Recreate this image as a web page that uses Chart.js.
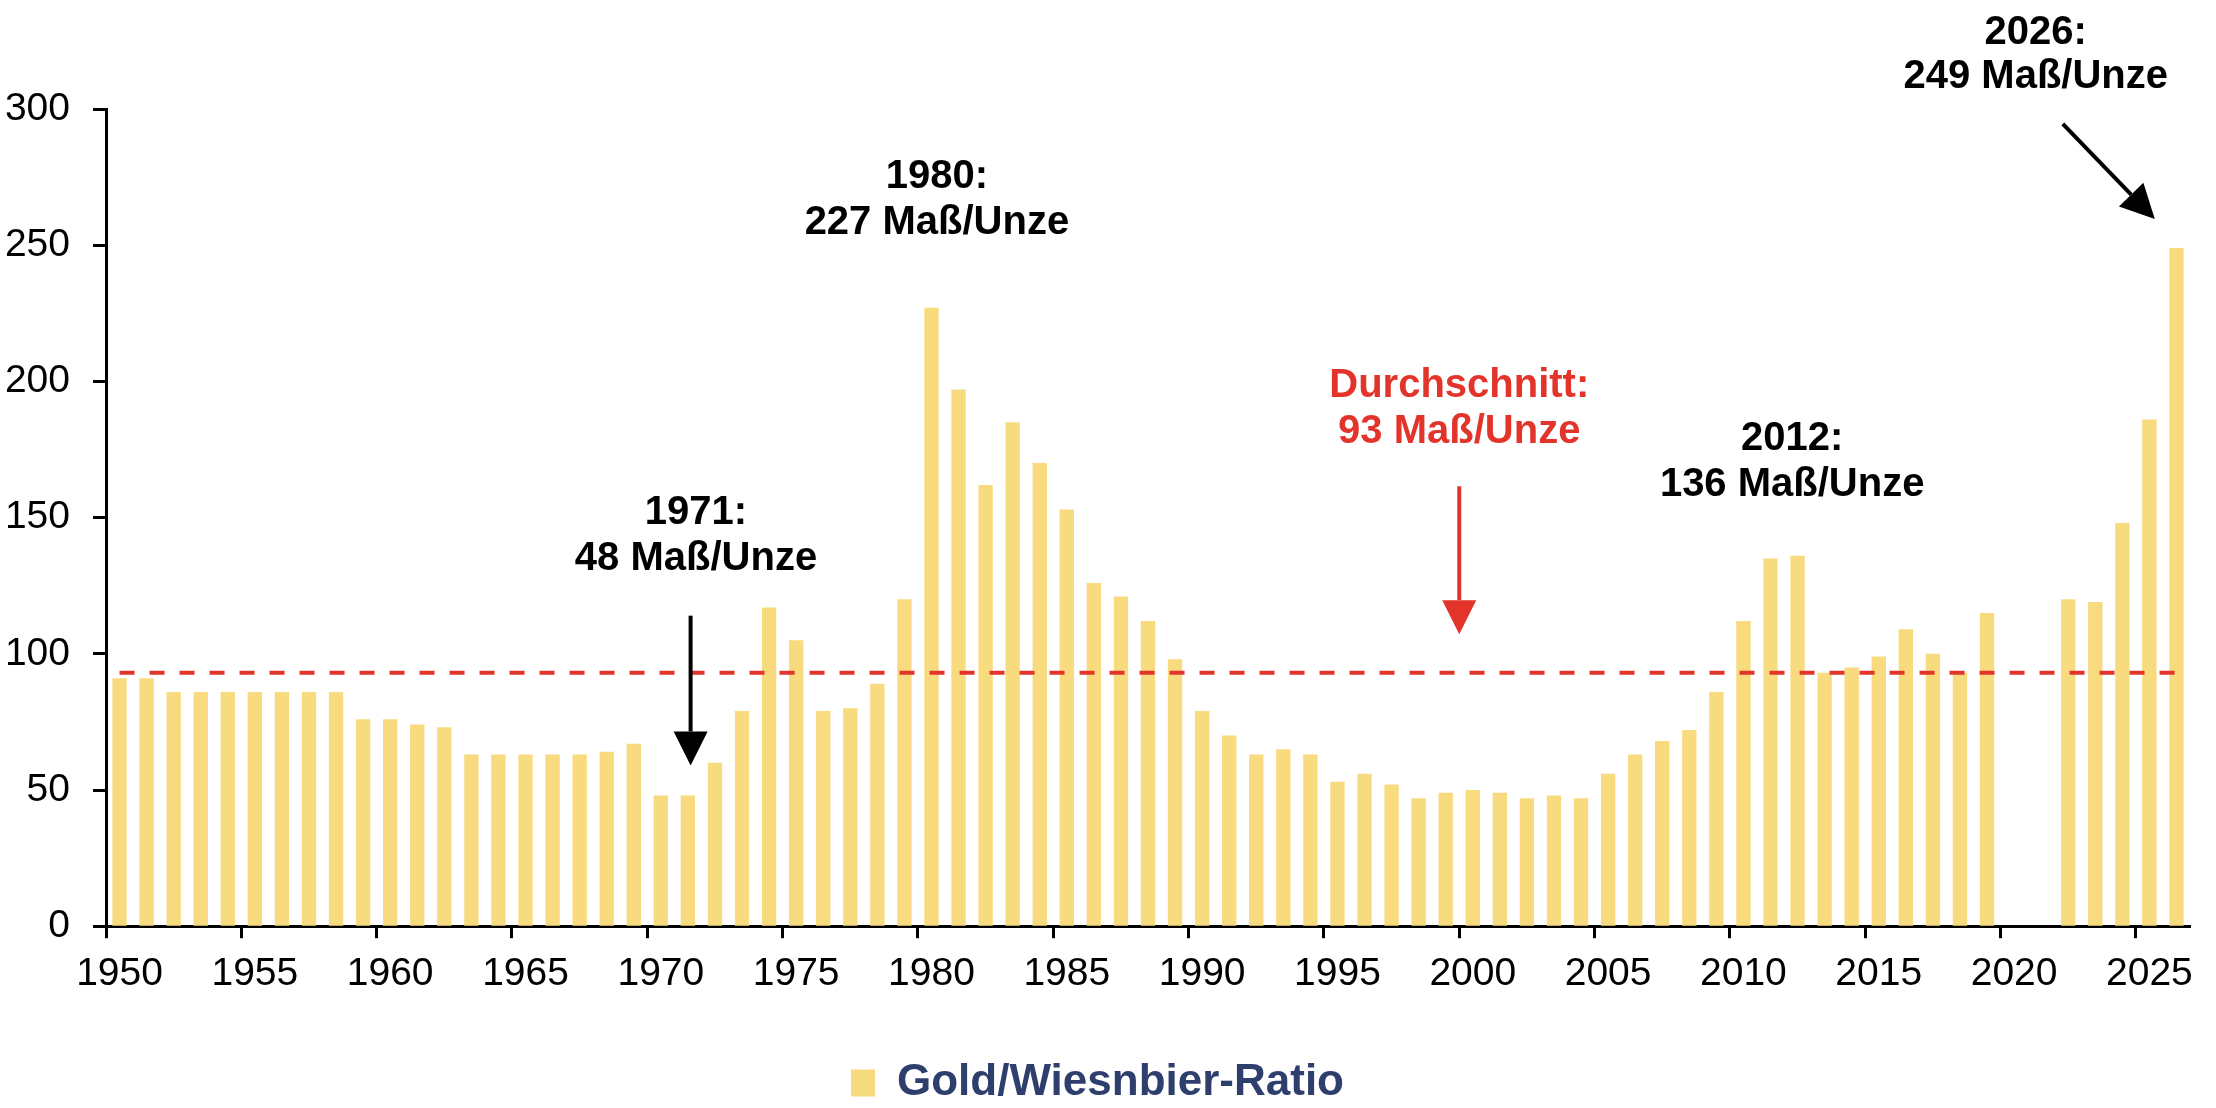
<!DOCTYPE html>
<html lang="de">
<head>
    <meta charset="UTF-8">
    <title>Gold/Wiesnbier-Ratio</title>
    <script src="https://cdn.jsdelivr.net/npm/chart.js"></script>
    <style>
        body { margin: 0; background: #fff; }
        .wrap { width: 2216px; height: 1108px; position: relative; }
    </style>
</head>
<body>
    <div class="wrap"><canvas id="ratioChart"></canvas></div>

    <script>
        // Jahre und Gold/Wiesnbier-Ratio (Maß pro Unze), 2020/2021 keine Wiesn
        const years = [
            1950, 1951, 1952, 1953, 1954, 1955, 1956, 1957, 1958, 1959,
            1960, 1961, 1962, 1963, 1964, 1965, 1966, 1967, 1968, 1969,
            1970, 1971, 1972, 1973, 1974, 1975, 1976, 1977, 1978, 1979,
            1980, 1981, 1982, 1983, 1984, 1985, 1986, 1987, 1988, 1989,
            1990, 1991, 1992, 1993, 1994, 1995, 1996, 1997, 1998, 1999,
            2000, 2001, 2002, 2003, 2004, 2005, 2006, 2007, 2008, 2009,
            2010, 2011, 2012, 2013, 2014, 2015, 2016, 2017, 2018, 2019,
            2020, 2021, 2022, 2023, 2024, 2025, 2026
        ];
        const ratio = [
            91, 91, 86, 86, 86, 86, 86, 86, 86, 76,
            76, 74, 73, 63, 63, 63, 63, 63, 64, 67,
            48, 48, 60, 79, 117, 105, 79, 80, 89, 120,
            227, 197, 162, 185, 170, 153, 126, 121, 112, 98,
            79, 70, 63, 65, 63, 53, 56, 52, 47, 49,
            50, 49, 47, 48, 47, 56, 63, 68, 72, 86,
            112, 135, 136, 93, 95, 99, 109, 100, 93, 115,
            null, null, 120, 119, 148, 186, 249
        ];
        const average = 93;
        const yTicks = [0, 50, 100, 150, 200, 250, 300];
        const xLabelEvery = 5;

        const barColor = '#F8DB7E';
        const avgColor = '#E3342B';
        const legendColor = '#2E3F6D';
        const axisFont = "'Liberation Sans', Arial, sans-serif";

        // Beschriftungen und Pfeile: x in Jahren (Kategoriegrenze), y in Maß/Unze
        const notes = {
            texts: [
                { x: 2021.3, y: 327.8, text: '2026:', color: '#000' },
                { x: 2021.3, y: 311.7, text: '249 Maß/Unze', color: '#000' },
                { x: 1980.7, y: 275.2, text: '1980:', color: '#000' },
                { x: 1980.7, y: 258.3, text: '227 Maß/Unze', color: '#000' },
                { x: 1971.8, y: 151.7, text: '1971:', color: '#000' },
                { x: 1971.8, y: 134.9, text: '48 Maß/Unze', color: '#000' },
                { x: 2000.0, y: 198.4, text: 'Durchschnitt:', color: avgColor },
                { x: 2000.0, y: 181.5, text: '93 Maß/Unze', color: avgColor },
                { x: 2012.3, y: 178.8, text: '2012:', color: '#000' },
                { x: 2012.3, y: 162.1, text: '136 Maß/Unze', color: '#000' }
            ],
            arrows: [
                { x1: 2022.3, y1: 294.5, x2: 2025.7, y2: 259.6, color: '#000' },
                { x1: 1971.6, y1: 114, x2: 1971.6, y2: 59, color: '#000' },
                { x1: 2000.0, y1: 161.5, x2: 2000.0, y2: 107.2, color: avgColor }
            ]
        };

        const notesPlugin = {
            id: 'notes',
            afterDatasetsDraw(chart) {
                const { ctx, scales: { x, y } } = chart;
                const px = yr => x.getPixelForValue(yr - years[0] - 0.5);
                ctx.save();
                ctx.font = "bold 40px 'Liberation Sans', Arial, sans-serif";
                ctx.textAlign = 'center';
                ctx.textBaseline = 'middle';
                notes.texts.forEach(t => {
                    ctx.fillStyle = t.color;
                    ctx.fillText(t.text, px(t.x), y.getPixelForValue(t.y));
                });
                notes.arrows.forEach(a => {
                    const x1 = px(a.x1), y1 = y.getPixelForValue(a.y1);
                    const x2 = px(a.x2), y2 = y.getPixelForValue(a.y2);
                    const ang = Math.atan2(y2 - y1, x2 - x1);
                    const head = 34, half = 17;
                    const bx = x2 - head * Math.cos(ang), by = y2 - head * Math.sin(ang);
                    ctx.strokeStyle = a.color;
                    ctx.fillStyle = a.color;
                    ctx.lineWidth = 4;
                    ctx.beginPath();
                    ctx.moveTo(x1, y1);
                    ctx.lineTo(bx, by);
                    ctx.stroke();
                    ctx.beginPath();
                    ctx.moveTo(x2, y2);
                    ctx.lineTo(bx + half * Math.sin(ang), by - half * Math.cos(ang));
                    ctx.lineTo(bx - half * Math.sin(ang), by + half * Math.cos(ang));
                    ctx.closePath();
                    ctx.fill();
                });
                ctx.restore();
            }
        };

        // Ticks nur an jeder 5. Kategoriegrenze
        const tickOn = c => (c.index % xLabelEvery === 0 && c.index < years.length ? '#000' : 'rgba(0,0,0,0)');

        const ctx = document.getElementById('ratioChart').getContext('2d');
        const ratioChart = new Chart(ctx, {
            type: 'bar',
            data: {
                labels: years,
                datasets: [
                    {
                        type: 'line',
                        label: 'Durchschnitt',
                        data: years.map(() => average),
                        borderColor: avgColor,
                        borderWidth: 4,
                        borderDash: [15, 15],
                        pointRadius: 0,
                        fill: false,
                        order: 0
                    },
                    {
                        label: 'Gold/Wiesnbier-Ratio',
                        data: ratio,
                        backgroundColor: barColor,
                        borderWidth: 0,
                        categoryPercentage: 1,
                        barPercentage: 0.53,
                        order: 1
                    }
                ]
            },
            options: {
                responsive: true,
                maintainAspectRatio: false,
                animation: false,
                layout: { padding: { top: 109, right: 26, bottom: -7, left: 5 } },
                plugins: {
                    tooltip: { enabled: false },
                    legend: {
                        position: 'bottom',
                        labels: {
                            filter: item => item.text === 'Gold/Wiesnbier-Ratio',
                            boxWidth: 24,
                            boxHeight: 27,
                            padding: 1,
                            color: legendColor,
                            font: { family: axisFont, size: 44, weight: 'bold' }
                        }
                    }
                },
                scales: {
                    x: {
                        offset: true,
                        border: { color: '#000', width: 3 },
                        grid: {
                            offset: true,
                            drawOnChartArea: false,
                            tickLength: 12,
                            tickColor: tickOn,
                            tickWidth: 3
                        },
                        ticks: {
                            autoSkip: false,
                            maxRotation: 0,
                            padding: 13,
                            color: '#000',
                            font: { family: axisFont, size: 39 },
                            callback: (v, i) => (years[i] % xLabelEvery === 0 ? String(years[i]) : '')
                        },
                        afterFit: scale => { scale.height += 49; }
                    },
                    y: {
                        min: yTicks[0],
                        max: yTicks[yTicks.length - 1],
                        border: { color: '#000', width: 3 },
                        grid: { drawOnChartArea: false, tickLength: 13, tickColor: '#000', tickWidth: 3 },
                        ticks: {
                            stepSize: yTicks[1] - yTicks[0],
                            padding: 23,
                            color: '#000',
                            font: { family: axisFont, size: 39 }
                        },
                        afterFit: scale => { scale.width = 101; }
                    }
                }
            },
            plugins: [notesPlugin]
        });
    </script>
</body>
</html>
